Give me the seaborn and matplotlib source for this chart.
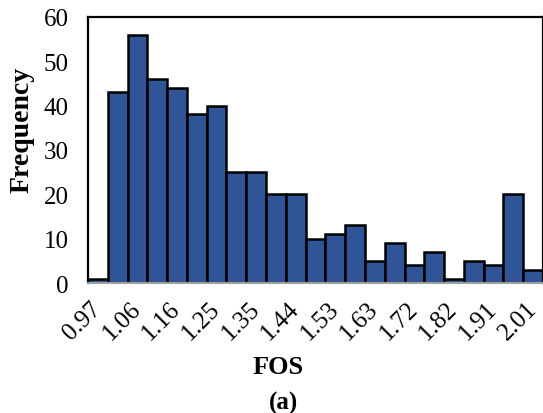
import matplotlib
matplotlib.use("Agg")
import matplotlib.pyplot as plt
import numpy as np
import pandas as pd
import seaborn as sns

# histogram bins (23 bins), labels shown on every other bin
counts = [1, 43, 56, 46, 44, 38, 40, 25, 25, 20, 20, 10, 11, 13, 5, 9, 4, 7, 1, 5, 4, 20, 3]
tick_labels = ["0.97", "1.06", "1.16", "1.25", "1.35", "1.44",
               "1.53", "1.63", "1.72", "1.82", "1.91", "2.01"]
y_ticks = [0, 10, 20, 30, 40, 50, 60]

BAR_COLOR = "#2F5597"

sns.set_theme(style="white")
plt.rcParams["font.family"] = ["Liberation Serif", "DejaVu Serif"]
plt.rcParams["text.color"] = "black"
plt.rcParams["xtick.color"] = "black"
plt.rcParams["ytick.color"] = "black"

df = pd.DataFrame({"bin": np.arange(len(counts)), "freq": counts})

fig = plt.figure(figsize=(5.43, 4.14), dpi=100)
ax = fig.add_axes([0.162, 0.314, 0.838, 0.643])

sns.barplot(data=df, x="bin", y="freq", color=BAR_COLOR, saturation=1,
            width=1.0, edgecolor="black", linewidth=1.8, ax=ax)

ax.set_xlim(-0.5, len(counts) - 0.5)
ax.set_ylim(0, 60)
ax.set_yticks(y_ticks)
ax.set_yticklabels([str(v) for v in y_ticks], fontsize=18)
ax.set_xticks(np.arange(0, len(counts), 2))
ax.set_xticklabels(tick_labels, rotation=45, ha="right", va="center",
                   rotation_mode="anchor", fontsize=18)
ax.tick_params(axis="y", length=0, pad=14)
ax.tick_params(axis="x", length=0, pad=16)

for side in ("left", "top", "right"):
    ax.spines[side].set_color("black")
    ax.spines[side].set_linewidth(1.6)
ax.spines["bottom"].set_color("#a0a0a0")
ax.spines["bottom"].set_linewidth(1.5)

ax.set_xlabel("")
ax.set_ylabel("")
fig.text(22 / 543, 1 - 130 / 414, "Frequency", rotation=90, ha="center", va="center",
         fontsize=20, fontweight="bold")
fig.text(278 / 543, 1 - 367 / 414, "FOS", ha="center", va="center",
         fontsize=19, fontweight="bold")
fig.text(283 / 543, 1 - 403 / 414, "(a)", ha="center", va="center",
         fontsize=18, fontweight="bold")

fig.savefig("out.png", dpi=100)
